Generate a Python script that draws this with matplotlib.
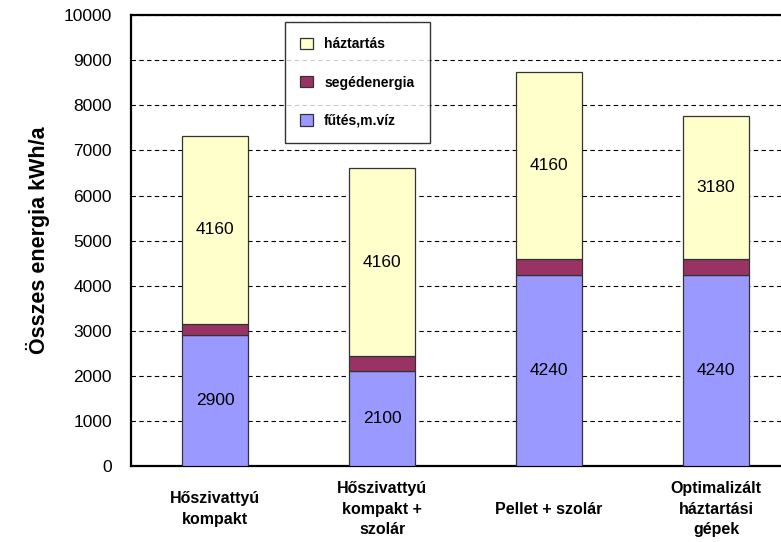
import matplotlib
matplotlib.use('Agg')
import matplotlib.pyplot as plt
import numpy as np

plt.rcParams['font.family'] = ['Liberation Sans', 'DejaVu Sans']

# Variants and energy components (kWh/a)
categories = ['Hőszivattyú\nkompakt', 'Hőszivattyú\nkompakt +\nszolár',
              'Pellet + szolár', 'Optimalizált\nháztartási\ngépek']
futes = [2900, 2100, 4240, 4240]
segedenergia = [260, 340, 350, 350]
haztartas = [4160, 4160, 4160, 3180]

fig = plt.figure(figsize=(7.81, 5.42), dpi=100)
ax = fig.add_axes([0.168, 0.140, 0.832, 0.832])

x = np.arange(len(categories))
w = 0.395
edge = dict(edgecolor='#333333', linewidth=0.9, zorder=3)

b1 = ax.bar(x, futes, w, color='#9999FF', label='fűtés,m.víz', **edge)
b2 = ax.bar(x, segedenergia, w, bottom=futes, color='#993366',
            label='segédenergia', **edge)
bottom3 = np.array(futes) + np.array(segedenergia)
b3 = ax.bar(x, haztartas, w, bottom=bottom3, color='#FFFFCC',
            label='háztartás', **edge)

# Value labels in the middle of the heating and household segments
for i in range(len(x)):
    ax.text(x[i], futes[i] / 2, str(futes[i]), ha='center', va='center',
            fontsize=12.5, zorder=4)
    ax.text(x[i], bottom3[i] + haztartas[i] / 2, str(haztartas[i]),
            ha='center', va='center', fontsize=12.5, zorder=4)

ax.set_ylim(0, 10000)
ax.set_xlim(-0.503, 3.389)
ax.set_yticks(np.arange(0, 10001, 1000))
ax.yaxis.grid(True, color='black', linestyle=(0, (4, 3)), linewidth=0.8)
ax.set_axisbelow(True)
ax.tick_params(axis='y', length=0, labelsize=12.5, pad=14)
ax.tick_params(axis='x', length=0, pad=31)
ax.set_xticks(x)
ax.set_xticklabels(categories, fontsize=11.5, fontweight='bold', va='center',
                   linespacing=1.45)

for s in ['left', 'top', 'bottom']:
    ax.spines[s].set_linewidth(1.6)
ax.spines['right'].set_visible(False)

ax.set_ylabel('Összes energia kWh/a', fontsize=15.5, fontweight='bold',
              labelpad=10)

handles = [b3, b2, b1]
leg = ax.legend(handles, [h.get_label() for h in handles],
                loc='upper left', bbox_to_anchor=(0.237, 0.985),
                prop={'weight': 'bold', 'size': 10}, frameon=True,
                fancybox=False, edgecolor='black', handlelength=0.9,
                handleheight=0.9, labelspacing=1.75, borderpad=1.1,
                handletextpad=0.8, borderaxespad=0)
leg.get_frame().set_linewidth(1.0)

fig.savefig('out.png', dpi=100)
